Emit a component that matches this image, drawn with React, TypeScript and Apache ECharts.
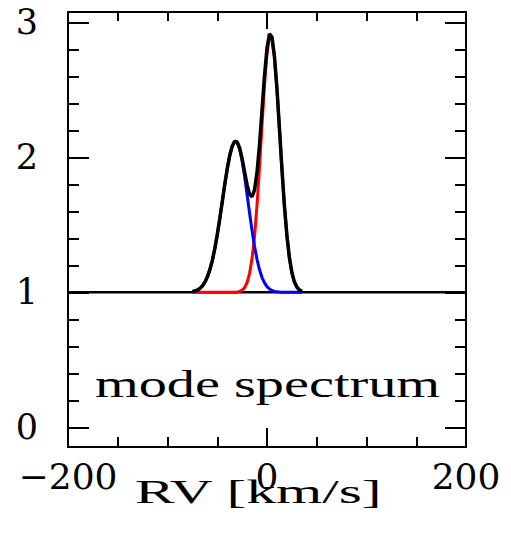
import React, { useEffect, useRef } from "react";
import * as echarts from "echarts";

const rvGrid = [
  -75, -72.5, -70, -67.5, -65, -62.5, -60, -57.5, -55, -52.5, -50, -47.5, -45, -42.5, -40,
  -37.5, -35, -32.5, -30, -27.5, -25, -22.5, -20, -17.5, -15, -12.5, -10, -7.5, -5, -2.5,
  0, 2.5, 5, 7.5, 10, 12.5, 15, 17.5, 20, 22.5, 25, 27.5, 30, 32.5, 35,
];
// Blue component
const fluxBlue = [
  1.005, 1.01, 1.017, 1.029, 1.047, 1.074, 1.113, 1.166, 1.235, 1.322, 1.426, 1.543, 1.669, 1.796, 1.913,
  2.012, 2.082, 2.117, 2.112, 2.062, 1.974, 1.857, 1.723, 1.586, 1.456, 1.34, 1.243, 1.167, 1.11, 1.07,
  1.042, 1.025, 1.014, 1.007, 1.004, 1.002, 1.001, 1.0, 1.0, 1.0, 1.0, 1.0, 1.0, 1.0, 1.0,
];
// Red component
const fluxRed = [
  1.0, 1.0, 1.0, 1.0, 1.0, 1.0, 1.0, 1.0, 1.0, 1.0, 1.0, 1.0, 1.0, 1.0, 1.0,
  1.0, 1.0, 1.001, 1.003, 1.007, 1.016, 1.035, 1.073, 1.14, 1.252, 1.419, 1.648, 1.929, 2.24, 2.536,
  2.767, 2.889, 2.877, 2.739, 2.504, 2.213, 1.913, 1.641, 1.421, 1.257, 1.147, 1.078, 1.039, 1.018, 1.008,
];
// Black total (mode spectrum)
const fluxTotal = [
  1.005, 1.01, 1.017, 1.029, 1.047, 1.074, 1.113, 1.166, 1.235, 1.322, 1.426, 1.543, 1.669, 1.796, 1.913,
  2.012, 2.082, 2.118, 2.115, 2.069, 1.99, 1.892, 1.796, 1.726, 1.708, 1.759, 1.891, 2.096, 2.35, 2.606,
  2.809, 2.914, 2.891, 2.746, 2.508, 2.215, 1.914, 1.641, 1.421, 1.257, 1.147, 1.078, 1.039, 1.018, 1.008,
];
const continuumRV = [-200, 200];
const continuumFlux = [1, 1];

const xMajorTicks = [-200, 0, 200];
const xMinorTicks = [-150, -100, -50, 50, 100, 150];
const yMajorTicks = [0, 1, 2, 3];
const yMinorTicks = [0.2, 0.4, 0.6, 0.8, 1.2, 1.4, 1.6, 1.8, 2.2, 2.4, 2.6, 2.8];

const xAxisTitle = "RV [km/s]";
const annotationText = "mode spectrum";

const X_MIN = -200;
const X_MAX = 200;
const Y_MIN = -0.145;
const Y_MAX = 3.076;

const pairs = (xs: number[], ys: number[]) => xs.map((x, i) => [x, ys[i]]);

const frameLine = { color: "#000", width: 2 };

function makeX(position: string, ticks: number[], len: number, labels: boolean) {
  return {
    type: "value",
    position,
    offset: 0,
    min: X_MIN,
    max: X_MAX,
    axisLine: { show: true, onZero: false, lineStyle: frameLine },
    axisTick: { show: true, inside: true, length: len, customValues: ticks, lineStyle: frameLine },
    axisLabel: labels
      ? {
          show: true,
          customValues: ticks,
          margin: 11,
          fontFamily: "DejaVu Serif",
          fontSize: 36,
          color: "#000",
          formatter: (v: number) => (v < 0 ? "\u2212" + Math.abs(v) : String(v)),
        }
      : { show: false },
    splitLine: { show: false },
    minorTick: { show: false },
    minorSplitLine: { show: false },
  };
}

function makeY(position: string, ticks: number[], len: number, labels: boolean) {
  return {
    type: "value",
    position,
    offset: 0,
    min: Y_MIN,
    max: Y_MAX,
    axisLine: { show: true, onZero: false, lineStyle: frameLine },
    axisTick: { show: true, inside: true, length: len, customValues: ticks, lineStyle: frameLine },
    axisLabel: labels
      ? {
          show: true,
          customValues: ticks,
          margin: 30,
          fontFamily: "DejaVu Serif",
          fontSize: 35,
          color: "#000",
        }
      : { show: false },
    splitLine: { show: false },
    minorTick: { show: false },
    minorSplitLine: { show: false },
  };
}

export default function App() {
  const ref = useRef<HTMLDivElement>(null);

  useEffect(() => {
    if (!ref.current) return;
    const chart = echarts.init(ref.current, null, { renderer: "svg" });
    const lineBase = { type: "line", showSymbol: false, symbol: "none", silent: true, xAxisIndex: 0, yAxisIndex: 0 };
    chart.setOption({
      animation: false,
      backgroundColor: "#fff",
      grid: { left: 68, right: 45, top: 12, bottom: 102, containLabel: false },
      xAxis: [
        makeX("bottom", xMajorTicks, 19, true),
        makeX("bottom", xMinorTicks, 10, false),
        makeX("top", xMajorTicks, 17, false),
        makeX("top", xMinorTicks, 9, false),
      ],
      yAxis: [
        makeY("left", yMajorTicks, 21, true),
        makeY("left", yMinorTicks, 11, false),
        makeY("right", yMajorTicks, 21, false),
        makeY("right", yMinorTicks, 11, false),
      ],
      series: [
        { ...lineBase, name: "continuum", z: 1, data: pairs(continuumRV, continuumFlux), lineStyle: { color: "#000", width: 2.5 } },
        { ...lineBase, name: "red", z: 2, data: pairs(rvGrid, fluxRed), lineStyle: { color: "#ff0000", width: 3 } },
        { ...lineBase, name: "blue", z: 3, data: pairs(rvGrid, fluxBlue), lineStyle: { color: "#0000ff", width: 3 } },
        { ...lineBase, name: "total", z: 4, data: pairs(rvGrid, fluxTotal), lineStyle: { color: "#000", width: 3.5 } },
      ],
      graphic: [
        {
          type: "text",
          x: 95,
          y: 385,
          scaleX: 1.52,
          silent: true,
          style: {
            text: annotationText,
            x: 0,
            y: 0,
            font: '37px "Liberation Serif"',
            fill: "#000",
            textAlign: "left",
            textVerticalAlign: "middle",
          },
        },
        {
          type: "text",
          x: 135,
          y: 492,
          scaleX: 1.8,
          silent: true,
          style: {
            text: xAxisTitle,
            x: 0,
            y: 0,
            font: '33px "Liberation Serif"',
            fill: "#000",
            textAlign: "left",
            textVerticalAlign: "middle",
          },
        },
      ],
    });
    return () => chart.dispose();
  }, []);

  return (
    <div
      ref={ref}
      style={{ position: "fixed", left: 0, top: 0, width: 511, height: 549, background: "#fff" }}
    />
  );
}
